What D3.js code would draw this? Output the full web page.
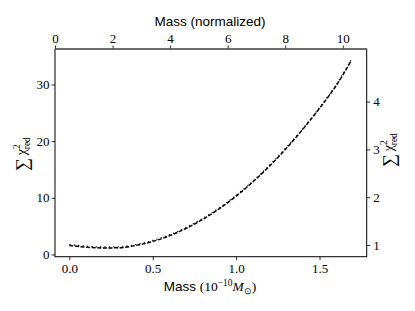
<!DOCTYPE html>
<html>
<head>
<meta charset="utf-8">
<script src="https://cdn.jsdelivr.net/npm/d3@7"></script>
<style>
  body { margin: 0; background: #fff; }
  svg { display: block; }
  .tick text { font-family: "Liberation Serif", "DejaVu Serif", serif; font-size: 13px; fill: #000; }
</style>
</head>
<body>
<script>
// bottom axis / left axis series
const mass = [0.0, 0.1, 0.2, 0.3, 0.4, 0.5, 0.6, 0.7, 0.8, 0.9, 1.0, 1.1, 1.2, 1.3, 1.4, 1.5, 1.6, 1.69];
const chi2 = [1.6, 1.3, 1.15, 1.2, 1.6, 2.3, 3.3, 4.6, 6.2, 8.1, 10.3, 12.8, 15.6, 18.7, 22.1, 25.8, 29.8, 34.2];
// top axis / right axis series
const massNorm = [0.5, 1.08, 1.66, 2.24, 2.82, 3.4, 3.98, 4.56, 5.14, 5.72, 6.3, 6.88, 7.46, 8.04, 8.62, 9.2, 9.78, 10.3];
const chi2Norm = [0.99, 0.955, 0.938, 0.943, 0.99, 1.074, 1.193, 1.347, 1.537, 1.762, 2.023, 2.319, 2.652, 3.02, 3.42, 3.86, 4.34, 4.86];

const bottomTicks = [0.0, 0.5, 1.0, 1.5];
const leftTicks = [0, 10, 20, 30];
const topTicks = [0, 2, 4, 6, 8, 10];
const rightTicks = [1, 2, 3, 4];

const W = 415, H = 311;
const m = {top: 49, right: 48.3, bottom: 54.3, left: 55};
const iw = W - m.left - m.right, ih = H - m.top - m.bottom;

const svg = d3.select(document.body).append('svg')
  .attr('width', W).attr('height', H);
const g = svg.append('g').attr('transform', `translate(${m.left},${m.top})`);

const x = d3.scaleLinear().domain([-0.086, 1.783]).range([0, iw]);
const xTop = d3.scaleLinear().domain([0, 10.83]).range([0, iw]);
const y = d3.scaleLinear().domain([-0.39, 36.26]).range([ih, 0]);
const yRight = d3.scaleLinear().domain([0.755, 5.10]).range([ih, 0]);

function style(ax){
  ax.select('.domain').remove();
  ax.selectAll('.tick line').attr('stroke', '#000').attr('stroke-width', 0.8);
}

g.append('g').attr('transform', `translate(0,${ih})`)
  .call(d3.axisBottom(x).tickValues(bottomTicks).tickFormat(d3.format('.1f')).tickSize(3.5).tickPadding(4))
  .call(style);
g.append('g')
  .call(d3.axisTop(xTop).tickValues(topTicks).tickFormat(d3.format('d')).tickSize(3.5).tickPadding(3))
  .call(style);
g.append('g')
  .call(d3.axisLeft(y).tickValues(leftTicks).tickFormat(d3.format('d')).tickSize(3.5).tickPadding(2))
  .call(style);
g.append('g').attr('transform', `translate(${iw},0)`)
  .call(d3.axisRight(yRight).tickValues(rightTicks).tickFormat(d3.format('d')).tickSize(3.5).tickPadding(3))
  .call(style);

// spines
g.append('rect').attr('width', iw).attr('height', ih)
  .attr('fill', 'none').attr('stroke', '#000').attr('stroke-width', 1);
g.append('line').attr('x1', 0).attr('x2', iw).attr('y1', 0).attr('y2', 0)
  .attr('stroke', '#666').attr('stroke-width', 1.6);

const line1 = d3.line().curve(d3.curveMonotoneX)
  .x((d, i) => x(mass[i])).y((d, i) => y(chi2[i]));
const line2 = d3.line().curve(d3.curveMonotoneX)
  .x((d, i) => xTop(massNorm[i])).y((d, i) => yRight(chi2Norm[i]));

g.append('path').attr('d', line1(chi2))
  .attr('fill', 'none').attr('stroke', '#000').attr('stroke-width', 1.5)
  .attr('stroke-dasharray', '4,1.6');
g.append('path').attr('d', line2(chi2Norm))
  .attr('fill', 'none').attr('stroke', '#000').attr('stroke-width', 1.2)
  .attr('stroke-dasharray', '1.2,3.2').attr('transform', 'translate(0,-1)');

// labels
svg.append('text').attr('x', 210).attr('y', 26)
  .attr('text-anchor', 'middle')
  .style('font-family', '"Liberation Sans", Arial, sans-serif').style('font-size', '13.5px')
  .text('Mass (normalized)');

const bl = svg.append('text').attr('x', 210).attr('y', 291)
  .attr('text-anchor', 'middle')
  .style('font-family', '"Liberation Serif", serif').style('font-size', '13.5px');
bl.append('tspan').style('font-family', '"Liberation Sans", Arial, sans-serif').text('Mass ');
bl.append('tspan').text('(10');
bl.append('tspan').attr('dy', -5).style('font-size', '9.5px').text('\u221210');
bl.append('tspan').attr('dy', 5).style('font-style', 'italic').text('M');
bl.append('tspan').attr('dy', 3).style('font-size', '9px').text('\u2299');
bl.append('tspan').attr('dy', -3).text(')');

function chiLabel(tx, ty){
  const t = svg.append('text')
    .attr('transform', `translate(${tx},${ty}) rotate(-90)`)
    .attr('text-anchor', 'middle')
    .style('font-family', '"Liberation Serif", serif').style('font-size', '14px');
  t.append('tspan').style('font-size', '18px').attr('dy', 2).text('\u2211');
  t.append('tspan').attr('dy', -2).text('\u2009\u03c7');
  t.append('tspan').attr('dy', -6).style('font-size', '9.5px').text('2');
  t.append('tspan').attr('dx', -5).attr('dy', 10).style('font-size', '9.5px').text('red');
}
chiLabel(26, 154);
chiLabel(393, 150);
</script>
</body>
</html>
